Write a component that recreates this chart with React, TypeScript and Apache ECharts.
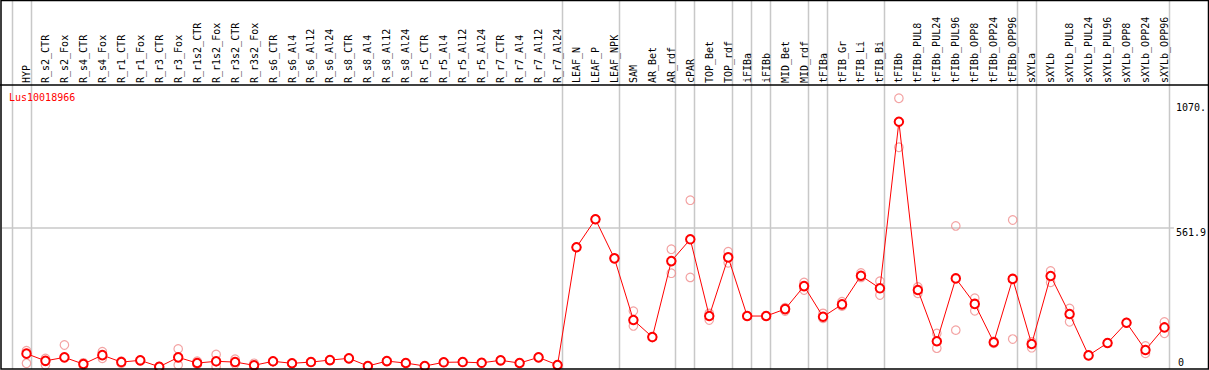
import React, { useEffect, useRef } from 'react';
import * as echarts from 'echarts';

const categories = [
  'HYP', 'R_s2_CTR', 'R_s2_Fox', 'R_s4_CTR', 'R_s4_Fox', 'R_r1_CTR', 'R_r1_Fox', 'R_r3_CTR', 'R_r3_Fox',
  'R_r1s2_CTR', 'R_r1s2_Fox', 'R_r3s2_CTR', 'R_r3s2_Fox', 'R_s6_CTR', 'R_s6_Al4', 'R_s6_Al12', 'R_s6_Al24',
  'R_s8_CTR', 'R_s8_Al4', 'R_s8_Al12', 'R_s8_Al24', 'R_r5_CTR', 'R_r5_Al4', 'R_r5_Al12', 'R_r5_Al24',
  'R_r7_CTR', 'R_r7_Al4', 'R_r7_Al12', 'R_r7_Al24', 'LEAF_N', 'LEAF_P', 'LEAF_NPK', 'SAM', 'AR_Bet', 'AR_rdf',
  'cPAR', 'TOP_Bet', 'TOP_rdf', 'iFIBa', 'iFIBb', 'MID_Bet', 'MID_rdf', 'tFIBa', 'tFIB_Gr', 'tFIB_Li', 'tFIB_Bi',
  'tFIBb', 'tFIBb_PUL8', 'tFIBb_PUL24', 'tFIBb_PUL96', 'tFIBb_OPP8', 'tFIBb_OPP24', 'tFIBb_OPP96',
  'sXYLa', 'sXYLb', 'sXYLb_PUL8', 'sXYLb_PUL24', 'sXYLb_PUL96', 'sXYLb_OPP8', 'sXYLb_OPP24', 'sXYLb_OPP96',
];

const means = [
  54, 25, 39, 12, 48, 20, 27, 1, 39, 16, 23, 20, 7, 23, 15, 20, 28, 35, 4, 24, 16, 4, 19, 20, 17, 27, 16, 39, 8,
  484, 597, 439, 190, 121, 428, 516, 206, 443, 206, 206, 234, 327, 203, 253, 369, 318,
  991, 311, 104, 358, 255, 100, 356, 93, 368, 214, 47, 97, 179, 69, 160,
];

const repHigh = [
  66, 35, 89, 17, 62, 24, 27, 1, 73, 24, 51, 32, 15, 23, 15, 20, 28, 35, 4, 24, 16, 4, 19, 20, 17, 27, 16, 39, 8,
  484, 597, 439, 226, 121, 476, 674, 217, 466, 206, 206, 240, 342, 217, 264, 380, 347,
  1086, 324, 136, 570, 278, 104, 594, 102, 388, 237, 47, 97, 179, 85, 182,
];

const repLow = [
  15, 8, -9, 7, 35, 15, 27, 1, 8, 11, 1, 12, 1, 23, 15, 20, 28, 35, 4, 24, 16, 4, 19, 20, 17, 27, 16, 39, 8,
  484, 597, 439, 166, 121, 379, 362, 190, 421, 206, 206, 226, 311, 197, 246, 362, 291,
  888, 298, 76, 149, 227, 96, 113, 78, 342, 183, 47, 97, 179, 55, 136,
];

const groupEnds = [-1, 0, 28, 31, 34, 35, 37, 38, 39, 41, 42, 45, 52, 53, 60];
const yTickValues = [561.9, 1070];
const yTickLabels = ['561.9', '1070.'];
const yZeroLabel = [0];
const gridLineValue = 561.9;
const title = 'Lus10018966';

export default function App() {
  const ref = useRef<HTMLDivElement>(null);
  useEffect(() => {
    document.body.style.margin = '0';
    const chart = echarts.init(ref.current!, null, { renderer: 'svg' });
    const font = 'DejaVu Sans Mono';
    const pale = '#f08c8c';
    const yAxisBase = {
      type: 'value',
      min: -8,
      max: 1483,
      position: 'right',
      axisLine: { show: false },
      axisTick: { show: false },
      splitLine: { show: false },
    };
    chart.setOption({
      animation: false,
      title: {
        text: title,
        left: 9,
        top: 92,
        padding: 0,
        textStyle: { color: '#ff0000', fontSize: 10, fontFamily: font, fontWeight: 'normal' },
      },
      grid: { left: 17, right: 33, top: 0, bottom: 1, containLabel: false },
      xAxis: [
        {
          type: 'category',
          data: categories,
          position: 'top',
          offset: -85,
          boundaryGap: true,
          axisLine: { show: false },
          axisTick: { show: false },
          splitLine: { show: false },
          axisLabel: { rotate: 90, margin: 2, interval: 0, fontSize: 10, fontFamily: font, color: '#000' },
        },
        { type: 'value', min: -0.5, max: 60.5, show: false },
      ],
      yAxis: [
        {
          ...yAxisBase,
          axisLabel: {
            customValues: yTickValues,
            formatter: (v: number) => {
              const k = yTickValues.findIndex((t) => Math.abs(t - v) < 1e-6);
              return k >= 0 ? yTickLabels[k] : '';
            },
            verticalAlign: 'top',
            align: 'left',
            margin: 2,
            fontSize: 10,
            fontFamily: font,
            color: '#000',
          },
        },
        {
          ...yAxisBase,
          axisLabel: {
            customValues: yZeroLabel,
            formatter: () => '0',
            verticalAlign: 'bottom',
            align: 'left',
            margin: 4,
            fontSize: 10,
            fontFamily: font,
            color: '#000',
          },
        },
      ],
      series: [
        {
          type: 'scatter',
          data: repHigh,
          symbol: 'circle',
          symbolSize: 8.5,
          itemStyle: { color: 'rgba(0,0,0,0)', borderColor: pale, borderWidth: 1.2 },
          z: 2,
        },
        {
          type: 'scatter',
          data: repLow,
          symbol: 'circle',
          symbolSize: 8.5,
          itemStyle: { color: 'rgba(0,0,0,0)', borderColor: pale, borderWidth: 1.2 },
          z: 2,
        },
        {
          type: 'line',
          data: means,
          symbol: 'emptyCircle',
          symbolSize: 8.5,
          showAllSymbol: true,
          lineStyle: { color: '#ff0000', width: 1 },
          itemStyle: { color: '#ff0000', borderColor: '#ff0000', borderWidth: 1.5 },
          z: 3,
        },
      ],
    });

    const xPix = (v: number) => chart.convertToPixel({ xAxisIndex: 1 }, v) as number;
    const yGrid = chart.convertToPixel({ yAxisIndex: 0 }, gridLineValue) as number;
    const gridRight = xPix(60.5);
    const grey = '#c8c8c8';
    const graphic: any[] = groupEnds.map((i) => {
      const x = Math.round(xPix(i + 0.22)) + 0.5;
      return {
        type: 'line',
        silent: true,
        z: 0,
        shape: { x1: x, y1: 0, x2: x, y2: 369 },
        style: { stroke: grey, lineWidth: 1.5 },
      };
    });
    graphic.push({
      type: 'line',
      silent: true,
      z: 0,
      shape: { x1: 2, y1: yGrid, x2: gridRight, y2: yGrid },
      style: { stroke: grey, lineWidth: 1.5 },
    });
    graphic.push({
      type: 'line',
      silent: true,
      z: 10,
      shape: { x1: 0, y1: 85, x2: 1209, y2: 85 },
      style: { stroke: '#000', lineWidth: 1.5 },
    });
    graphic.push({
      type: 'rect',
      silent: true,
      z: 10,
      shape: { x: 1, y: 0.5, width: 1207.5, height: 368.5 },
      style: { fill: 'none', stroke: '#000', lineWidth: 1.5 },
    });
    chart.setOption({ graphic });

    return () => chart.dispose();
  }, []);
  return <div ref={ref} style={{ width: 1209, height: 370 }} />;
}
